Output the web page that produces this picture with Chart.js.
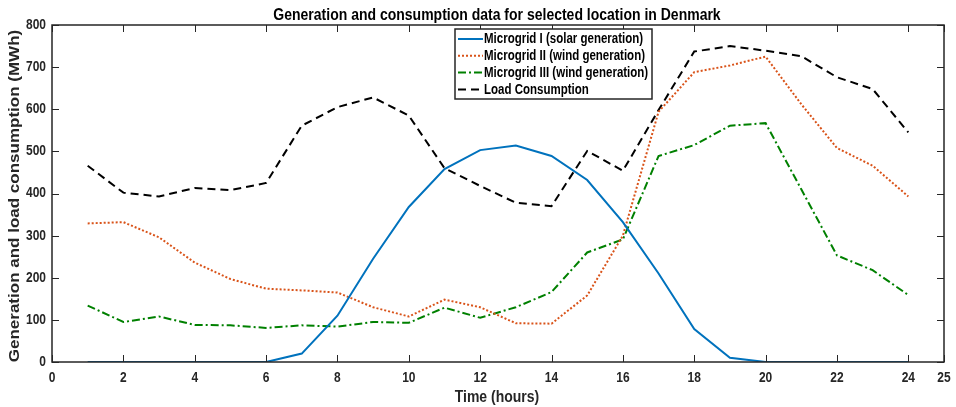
<!DOCTYPE html>
<html>
<head>
<meta charset="utf-8">
<script src="https://cdn.jsdelivr.net/npm/chart.js@4.4.1/dist/chart.umd.min.js"></script>
<style>
  html, body { margin: 0; padding: 0; background: #fff; }
  #wrap { width: 956px; height: 407px; }
</style>
</head>
<body>
<div id="wrap"><canvas id="myChart" width="956" height="407"></canvas></div>
<script>
const hours = [1, 2, 3, 4, 5, 6, 7, 8, 9, 10, 11, 12, 13, 14, 15, 16, 17, 18, 19, 20, 21, 22, 23, 24];
const solar = [0, 0, 0, 0, 0, 0, 20, 110, 245, 368, 458, 503, 514, 489, 432, 332, 210, 78, 10, 0, 0, 0, 0, 0];
const wind2 = [329, 332, 296, 236, 197, 174, 170, 165, 130, 108, 148, 130, 92, 91, 158, 300, 594, 688, 704, 725, 612, 508, 466, 393];
const wind3 = [134, 95, 108, 88, 87, 81, 87, 84, 95, 93, 129, 105, 130, 166, 260, 291, 489, 515, 561, 567, 410, 253, 218, 159];
const load = [466, 402, 393, 413, 408, 425, 561, 605, 628, 585, 460, 418, 378, 370, 501, 454, 598, 737, 750, 739, 726, 676, 648, 545];
const xTicks = [0, 2, 4, 6, 8, 10, 12, 14, 16, 18, 20, 22, 24, 25];
const seriesNames = ['Microgrid I (solar generation)', 'Microgrid II (wind generation)', 'Microgrid III (wind generation)', 'Load Consumption'];

const FONT = "'Liberation Sans', Arial, sans-serif";
const TEXT = '#262626';
const SY = 1.2; // text in the reference is a little taller than wide

function pts(arr) {
  return arr.map((v, i) => ({x: hours[i], y: v}));
}

function tallText(ctx, s, x, y) {
  ctx.save();
  ctx.translate(x, y);
  ctx.scale(1, SY);
  ctx.fillText(s, 0, 0);
  ctx.restore();
}

// box with inward ticks, titles and an inside legend
const decor = {
  id: 'decor',
  afterDraw(chart) {
    const {ctx, chartArea: a, scales} = chart;
    ctx.save();
    ctx.strokeStyle = TEXT;
    ctx.lineWidth = 1.5;
    ctx.strokeRect(a.left, a.top, a.right - a.left, a.bottom - a.top);
    ctx.lineWidth = 1;
    const tl = 7;
    ctx.beginPath();
    scales.x.ticks.forEach(t => {
      const px = Math.round(scales.x.getPixelForValue(t.value)) + 0.5;
      ctx.moveTo(px, a.bottom); ctx.lineTo(px, a.bottom - tl);
      ctx.moveTo(px, a.top); ctx.lineTo(px, a.top + tl);
    });
    scales.y.ticks.forEach(t => {
      const py = Math.round(scales.y.getPixelForValue(t.value)) + 0.5;
      ctx.moveTo(a.left, py); ctx.lineTo(a.left + tl, py);
      ctx.moveTo(a.right, py); ctx.lineTo(a.right - tl, py);
    });
    ctx.stroke();

    // tick labels
    ctx.fillStyle = TEXT;
    ctx.font = 'bold 12px ' + FONT;
    ctx.textBaseline = 'middle';
    ctx.textAlign = 'center';
    scales.x.ticks.forEach(t => {
      tallText(ctx, String(t.value), scales.x.getPixelForValue(t.value), a.bottom + 16);
    });
    ctx.textAlign = 'right';
    scales.y.ticks.forEach(t => {
      tallText(ctx, String(t.value), a.left - 6, scales.y.getPixelForValue(t.value));
    });

    // title
    ctx.fillStyle = '#000';
    ctx.font = 'bold 14px ' + FONT;
    ctx.textAlign = 'center';
    tallText(ctx, 'Generation and consumption data for selected location in Denmark', 497, 15);

    // axis titles
    ctx.fillStyle = TEXT;
    ctx.font = 'bold 14px ' + FONT;
    tallText(ctx, 'Time (hours)', 497, 397);
    ctx.save();
    ctx.translate(15, 196);
    ctx.rotate(-Math.PI / 2);
    ctx.scale(17 / 14, 1);
    ctx.fillText('Generation and load consumption (MWh)', 0, 0);
    ctx.restore();

    // legend
    const lx = 455, ly = 29, lw = 197, lh = 70;
    ctx.fillStyle = '#fff';
    ctx.fillRect(lx, ly, lw, lh);
    ctx.strokeStyle = '#262626';
    ctx.lineWidth = 1.5;
    ctx.strokeRect(lx, ly, lw, lh);
    ctx.font = 'bold 11.5px ' + FONT;
    ctx.textAlign = 'left';
    chart.data.datasets.forEach((ds, i) => {
      const y = ly + 10 + i * 16.8;
      ctx.strokeStyle = ds.borderColor;
      ctx.lineWidth = ds.borderWidth;
      ctx.setLineDash(ds.borderDash || []);
      ctx.beginPath();
      ctx.moveTo(lx + 3, y); ctx.lineTo(lx + 28, y);
      ctx.stroke();
      ctx.setLineDash([]);
      ctx.fillStyle = '#000';
      tallText(ctx, ds.label, lx + 29, y + 0.5);
    });
    ctx.restore();
  }
};

const config = {
  type: 'line',
  data: {
    datasets: [
      {label: seriesNames[0], data: pts(solar), borderColor: '#0072BD', borderWidth: 2},
      {label: seriesNames[1], data: pts(wind2), borderColor: '#D95319', borderWidth: 2, borderDash: [2, 2]},
      {label: seriesNames[2], data: pts(wind3), borderColor: '#008000', borderWidth: 2, borderDash: [8, 3, 2, 3]},
      {label: seriesNames[3], data: pts(load), borderColor: '#000000', borderWidth: 2, borderDash: [8, 5]}
    ]
  },
  options: {
    responsive: false,
    animation: false,
    layout: {padding: {top: 25, right: 12, left: 52, bottom: 45}},
    elements: {point: {radius: 0}, line: {tension: 0, fill: false}},
    plugins: {legend: {display: false}, title: {display: false}, tooltip: {enabled: false}},
    scales: {
      x: {
        type: 'linear',
        min: 0, max: 25,
        display: false,
        afterBuildTicks: s => { s.ticks = xTicks.map(v => ({value: v})); }
      },
      y: {
        min: 0, max: 800,
        display: false,
        ticks: {stepSize: 100}
      }
    }
  },
  plugins: [decor]
};

new Chart(document.getElementById('myChart'), config);
</script>
</body>
</html>
